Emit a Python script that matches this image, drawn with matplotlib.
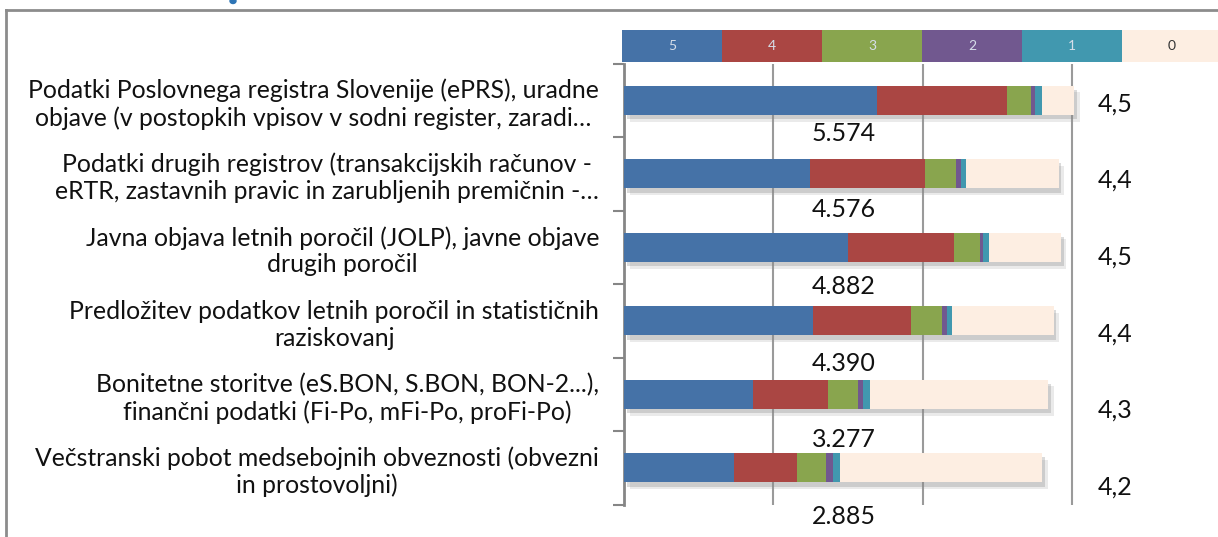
import matplotlib.pyplot as plt
import matplotlib.patheffects as pe
from matplotlib.lines import Line2D
from matplotlib.patches import Ellipse
import numpy as np

# --- data ---
categories = [
    "Podatki Poslovnega registra Slovenije (ePRS), uradne\nobjave (v postopkih vpisov v sodni register, zaradi\u2026",
    "Podatki drugih registrov (transakcijskih ra\u010dunov -\neRTR, zastavnih pravic in zarubljenih premi\u010dnin -\u2026",
    "Javna objava letnih poro\u010dil (JOLP), javne objave\ndrugih poro\u010dil",
    "Predlo\u017eitev podatkov letnih poro\u010dil in statisti\u010dnih\nraziskovanj",
    "Bonitetne storitve (eS.BON, S.BON, BON-2...),\nfinan\u010dni podatki (Fi-Po, mFi-Po, proFi-Po)",
    "Ve\u010dstranski pobot medsebojnih obveznosti (obvezni\nin prostovoljni)",
]
grades = ["5", "4", "3", "2", "1", "0"]
share_5 = [56.5, 41.5, 50.0, 42.1, 28.9, 24.5]
share_4 = [29.0, 25.6, 23.7, 21.9, 16.7, 14.2]
share_3 = [5.4, 6.9, 5.7, 7.0, 6.6, 6.5]
share_2 = [0.9, 1.3, 0.7, 1.1, 1.2, 1.4]
share_1 = [1.5, 1.1, 1.4, 1.2, 1.4, 1.7]
share_0 = [7.2, 20.6, 16.0, 22.6, 39.9, 45.0]
counts = [5574, 4576, 4882, 4390, 3277, 2885]
means = [4.5, 4.4, 4.5, 4.4, 4.3, 4.2]

colors = ["#4572A7", "#AA4643", "#89A54E", "#71588F", "#4198AF", "#FDEEE2"]

plt.rcParams['font.family'] = ['Lato', 'DejaVu Sans']

W, H = 1218, 537
fig = plt.figure(figsize=(W / 100, H / 100), dpi=100)

def fx(px):
    return px / W

def fy(px):
    return 1 - px / H

# outer frame (only top and left edges visible)
fig.add_artist(Line2D([fx(6), fx(6)], [fy(10), fy(560)], color="#8c8c8c", lw=2))
fig.add_artist(Line2D([fx(6), fx(1240)], [fy(10), fy(10)], color="#8c8c8c", lw=2))
# tiny blue remnant of the cropped title above the frame
fig.add_artist(Ellipse((fx(233), fy(1)), 6 / W, 5 / H, angle=0, color="#2E75B6"))

# main axes
ax = fig.add_axes([fx(624), fy(504.5), (1084 - 624) / W, (504.5 - 63.5) / H])
y = np.arange(len(categories))
series = [share_5, share_4, share_3, share_2, share_1, share_0]
shadow = [pe.SimplePatchShadow(offset=(4, -5), shadow_rgbFace="#999999", alpha=0.2),
          pe.SimplePatchShadow(offset=(2, -3), shadow_rgbFace="#888888", alpha=0.3),
          pe.Normal()]
left = np.zeros(len(categories))
for vals, c in zip(series, colors):
    bars = ax.barh(y, vals, left=left, color=c, height=0.4, zorder=3)
    for b in bars:
        b.set_path_effects(shadow)
    left += np.array(vals)

ax.set_xlim(0, 460 * 100 / 448)
ax.set_ylim(len(categories) - 0.5, -0.5)
ax.set_xticks([100 / 3, 200 / 3, 100])
ax.set_xticklabels([])
ax.tick_params(axis="x", length=0)
ax.grid(True, axis="x", color="#9a9a9a", lw=1.5)
ax.set_axisbelow(True)

ax.set_yticks(np.arange(-0.5, len(categories), 1))
ax.set_yticklabels([])
ax.tick_params(axis="y", which="major", length=8, width=1.5, color="#868686")
ax.set_yticks(y, minor=True)
ax.set_yticklabels(categories, minor=True, fontsize=17.8, color="#111111")
ax.tick_params(axis="y", which="minor", length=0, pad=18)
for lbl in ax.get_yticklabels(minor=True):
    lbl.set_multialignment("center")
    lbl.set_linespacing(1.2)

for s in ["top", "right", "bottom"]:
    ax.spines[s].set_visible(False)
ax.spines["left"].set_color("#868686")
ax.spines["left"].set_linewidth(2)

# mean grade and number of answers
for i in range(len(categories)):
    ax.text(105.8, 0.05 + 1.042 * i, f"{means[i]:.1f}".replace(".", ","),
            ha="left", va="center", fontsize=18, color="#111111")
    ax.text(49.1, 0.45 + 1.042 * i, f"{counts[i]:,}".replace(",", "."),
            ha="center", va="center", fontsize=18, color="#111111")

# legend strip
lax = fig.add_axes([fx(622), fy(62), 600 / W, 32 / H])
lax.barh(0, [1] * len(grades), left=np.arange(len(grades)), color=colors, height=1)
for i, g in enumerate(grades):
    lax.text(i + 0.5, 0, g, ha="center", va="center", fontsize=10,
             color="#333333" if g == "0" else "#d6dee9")
lax.set_xlim(0, len(grades))
lax.set_ylim(-0.5, 0.5)
lax.axis("off")

fig.savefig("out.png", dpi=100)
